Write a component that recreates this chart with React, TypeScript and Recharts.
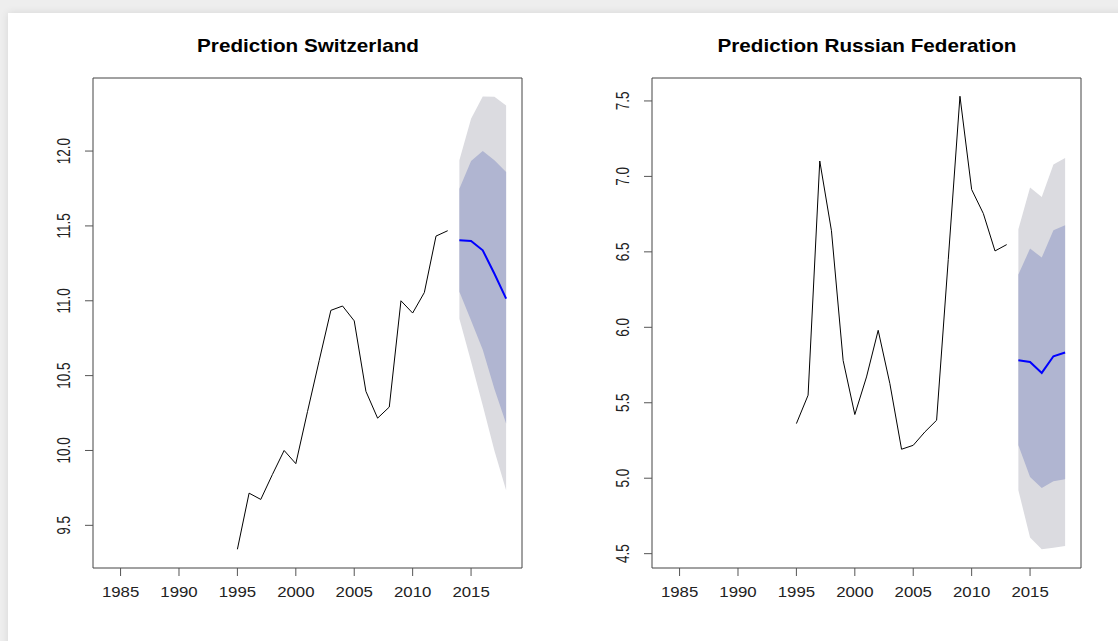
import React from "react";
import { ComposedChart, Line, Area, XAxis, YAxis, ReferenceArea } from "recharts";

// observed years and forecast horizon
const histYears = [
  1995, 1996, 1997, 1998, 1999, 2000, 2001, 2002, 2003, 2004,
  2005, 2006, 2007, 2008, 2009, 2010, 2011, 2012, 2013,
];
const fcYears = [2014, 2015, 2016, 2017, 2018];
const xTicks = [1985, 1990, 1995, 2000, 2005, 2010, 2015];
const xDomain: [number, number] = [1982.64, 2019.36];

// Switzerland
const swissActual = [
  9.34, 9.715, 9.673, 9.84, 10.0, 9.912, 10.26, 10.6, 10.936, 10.965,
  10.866, 10.395, 10.216, 10.29, 11.0, 10.918, 11.055, 11.432, 11.468,
];
const swissMean = [11.405, 11.4, 11.337, 11.18, 11.014];
const swissLo80 = [11.06, 10.868, 10.672, 10.41, 10.18];
const swissHi80 = [11.749, 11.933, 12.0, 11.938, 11.86];
const swissLo95 = [10.88, 10.595, 10.3, 9.998, 9.735];
const swissHi95 = [11.938, 12.216, 12.365, 12.362, 12.305];
const swissTicks = [9.5, 10.0, 10.5, 11.0, 11.5, 12.0];
const swissDomain: [number, number] = [9.215, 12.488];

// Russian Federation
const russiaActual = [
  5.362, 5.55, 7.102, 6.64, 5.78, 5.422, 5.671, 5.98, 5.627, 5.192,
  5.218, 5.307, 5.384, 6.45, 7.531, 6.913, 6.754, 6.506, 6.548,
];
const russiaMean = [5.782, 5.77, 5.698, 5.808, 5.833];
const russiaLo80 = [5.218, 5.008, 4.935, 4.98, 4.993];
const russiaHi80 = [6.35, 6.522, 6.462, 6.643, 6.676];
const russiaLo95 = [4.92, 4.607, 4.529, 4.54, 4.551];
const russiaHi95 = [6.65, 6.926, 6.864, 7.079, 7.122];
const russiaTicks = [4.5, 5.0, 5.5, 6.0, 6.5, 7.0, 7.5];
const russiaDomain: [number, number] = [4.405, 7.652];

const FONT = "'Liberation Sans', Arial, sans-serif";

function buildRows(
  actual: number[],
  mean: number[],
  lo80: number[],
  hi80: number[],
  lo95: number[],
  hi95: number[]
) {
  const rows: any[] = histYears.map((year, i) => ({ year, actual: actual[i] }));
  fcYears.forEach((year, i) =>
    rows.push({
      year,
      mean: mean[i],
      band80: [lo80[i], hi80[i]],
      band95: [lo95[i], hi95[i]],
    })
  );
  return rows;
}

function XTick({ x, y, payload }: any) {
  return (
    <g transform={`translate(${x},${y}) scale(1.12,1)`}>
      <text x={0} y={0} dy="0.71em" textAnchor="middle" fontSize={15} fill="#222" fontFamily={FONT}>
        {payload.value}
      </text>
    </g>
  );
}

function YTick({ x, y, payload }: any) {
  return (
    <g transform={`translate(${x},${y}) scale(1.35,1) rotate(-90)`}>
      <text x={0} y={0} textAnchor="middle" fontSize={13.5} fill="#222" fontFamily={FONT}>
        {Number(payload.value).toFixed(1)}
      </text>
    </g>
  );
}

function ForecastPanel({
  rows,
  yDomain,
  yTicks,
  width,
  margin,
}: {
  rows: any[];
  yDomain: [number, number];
  yTicks: number[];
  width: number;
  margin: { top: number; right: number; bottom: number; left: number };
}) {
  return (
    <ComposedChart width={width} height={641} data={rows} margin={margin}>
      <XAxis
        type="number"
        dataKey="year"
        domain={xDomain}
        allowDataOverflow
        ticks={xTicks}
        interval={0}
        axisLine={false}
        tickLine={{ stroke: "#555" }}
        tickSize={8}
        tickMargin={10}
        height={40}
        tick={<XTick />}
      />
      <YAxis
        type="number"
        domain={yDomain}
        allowDataOverflow
        ticks={yTicks}
        interval={0}
        axisLine={false}
        tickLine={{ stroke: "#555" }}
        tickSize={8}
        tickMargin={15}
        width={60}
        tick={<YTick />}
      />
      <Area
        type="linear"
        dataKey="band95"
        fill="#DBDBE0"
        fillOpacity={1}
        stroke="none"
        dot={false}
        activeDot={false}
        isAnimationActive={false}
      />
      <Area
        type="linear"
        dataKey="band80"
        fill="#B0B5D1"
        fillOpacity={1}
        stroke="none"
        dot={false}
        activeDot={false}
        isAnimationActive={false}
      />
      <Line
        type="linear"
        dataKey="actual"
        stroke="#000"
        strokeWidth={1}
        dot={false}
        activeDot={false}
        isAnimationActive={false}
      />
      <Line
        type="linear"
        dataKey="mean"
        stroke="#0000FF"
        strokeWidth={2}
        dot={false}
        activeDot={false}
        isAnimationActive={false}
      />
      <ReferenceArea
        x1={xDomain[0]}
        x2={xDomain[1]}
        y1={yDomain[0]}
        y2={yDomain[1]}
        fill="none"
        stroke="#444"
        strokeWidth={1}
        ifOverflow="visible"
      />
    </ComposedChart>
  );
}

function Title({ text, center }: { text: string; center: number }) {
  return (
    <div
      style={{
        position: "absolute",
        left: center - 200,
        top: 38,
        width: 400,
        textAlign: "center",
        fontFamily: FONT,
        fontWeight: "bold",
        fontSize: 17.7,
        lineHeight: "17.7px",
        color: "#000",
        transform: "scaleX(1.17)",
      }}
    >
      {text}
    </div>
  );
}

export default function App() {
  const swissRows = buildRows(swissActual, swissMean, swissLo80, swissHi80, swissLo95, swissHi95);
  const russiaRows = buildRows(russiaActual, russiaMean, russiaLo80, russiaHi80, russiaLo95, russiaHi95);

  return (
    <div
      style={{
        position: "fixed",
        left: 0,
        top: 0,
        width: 1118,
        height: 641,
        background: "#eeeeee",
        overflow: "hidden",
      }}
    >
      <div
        style={{
          position: "absolute",
          left: 8,
          top: 13,
          right: -20,
          bottom: -20,
          background: "#fff",
          boxShadow: "0 0 8px rgba(0,0,0,0.10)",
        }}
      />
      <div style={{ position: "absolute", left: 0, top: 0 }}>
        <ForecastPanel
          rows={swissRows}
          yDomain={swissDomain}
          yTicks={swissTicks}
          width={560}
          margin={{ top: 78, right: 38, bottom: 33, left: 33 }}
        />
      </div>
      <div style={{ position: "absolute", left: 560, top: 0 }}>
        <ForecastPanel
          rows={russiaRows}
          yDomain={russiaDomain}
          yTicks={russiaTicks}
          width={558}
          margin={{ top: 78, right: 37, bottom: 33, left: 32 }}
        />
      </div>
      <Title text="Prediction Switzerland" center={307.5} />
      <Title text="Prediction Russian Federation" center={866.5} />
    </div>
  );
}
